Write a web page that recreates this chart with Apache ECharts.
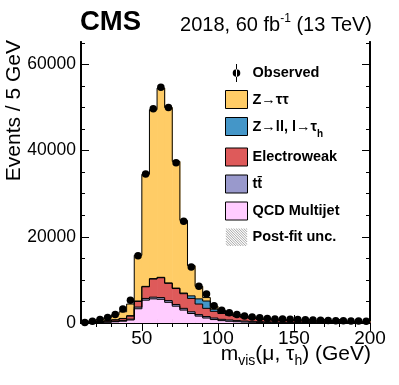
<!DOCTYPE html>
<html>
<head>
<meta charset="utf-8">
<script src="https://cdn.jsdelivr.net/npm/echarts@6/dist/echarts.min.js"></script>
<style>
html, body { margin: 0; padding: 0; background: #fff; }
#chart { width: 399px; height: 385px; }
</style>
</head>
<body>
<div id="chart"></div>
<script>
// bin low edges, 5 GeV bins from 10 to 200
var binLow = [10,15,20,25,30,35,40,45,50,55,60,65,70,75,80,85,90,95,100,105,
              110,115,120,125,130,135,140,145,150,155,160,165,170,175,180,185,190,195];

var observed = [100,400,800,1250,1950,3250,5300,15600,34600,49700,54700,50000,37200,23600,13000,8500,6700,4000,2950,2350,
                2000,1600,1400,1200,1050,950,900,850,800,750,700,650,600,550,500,480,450,420];

// stacked components, bottom to top
var qcd   = [40,80,120,180,280,420,700,3300,5300,5600,5500,4800,3900,3000,2200,1600,1150,800,550,400,
             300,220,170,130,100,80,70,60,50,45,40,35,30,25,22,20,18,16];
var ttbar = [20,40,60,80,100,140,200,400,400,400,400,400,400,400,400,350,350,350,300,300,
             250,230,210,190,180,160,140,130,120,105,95,85,80,75,68,60,54,49];
var ewk   = [40,80,150,220,320,440,700,1300,2700,4200,4600,4000,3700,3400,3100,2450,1900,1550,1350,1100,
             950,800,670,580,500,450,410,370,340,320,295,280,260,240,220,210,198,185];
var zll   = [10,20,20,30,40,60,100,100,100,100,100,100,100,150,600,1200,1700,500,300,150,
             100,70,50,40,30,20,20,20,10,10,10,10,5,5,5,5,5,5];
var ztt   = [140,280,500,740,1160,1540,2700,10600,26000,39200,43900,40700,29400,16850,7000,2900,800,700,450,450,
             400,330,300,260,240,240,240,240,240,230,220,210,205,195,185,175,165,155];

var xMajor = [50,100,150,200];
var xMinor = [20,30,40,60,70,80,90,110,120,130,140,160,170,180,190];
var yMajor = [0,20000,40000,60000];
var yMinor = [5000,10000,15000,25000,30000,35000,45000,50000,55000,65000];

var FONT = '"Liberation Sans", Arial, Helvetica, sans-serif';
var BIN = 5;

// running sum of the stack, used as the base of each component
var base = binLow.map(function () { return 0; });

function band(name, vals, color) {
    var data = vals.map(function (v, i) {
        var lo = base[i];
        base[i] += v;
        return [binLow[i], binLow[i] + BIN, lo, base[i]];
    });
    return {
        name: name, type: 'custom', silent: true,
        itemStyle: { color: color },
        encode: { x: [0, 1], y: [2, 3] },
        data: data,
        renderItem: function (params, api) {
            var i = params.dataIndex;
            var p0 = api.coord([api.value(0), api.value(3)]);
            var p1 = api.coord([api.value(1), api.value(2)]);
            var children = [{
                type: 'rect', z2: 0,
                shape: { x: p0[0], y: p0[1], width: p1[0] - p0[0] + 0.6, height: p1[1] - p0[1] },
                style: { fill: color }
            }];
            var pts = [[p0[0], p0[1]], [p1[0], p0[1]]];
            if (i + 1 < data.length) {
                var nxt = api.coord([data[i + 1][0], data[i + 1][3]]);
                pts.push([p1[0], nxt[1]]);
            }
            children.push({
                type: 'polyline', z2: 10,
                shape: { points: pts },
                style: { stroke: '#000', lineWidth: 1, fill: null }
            });
            return { type: 'group', children: children };
        }
    };
}

function xAx(pos, ticks, len, labels) {
    return {
        type: 'value', position: pos, min: 10, max: 200,
        splitLine: { show: false },
        axisLine: { show: true, lineStyle: { color: '#000', width: 1.8 } },
        axisTick: { show: true, inside: true, length: len, customValues: ticks, lineStyle: { color: '#000', width: 1 } },
        axisLabel: labels ? { customValues: xMajor, color: '#000', fontSize: 19, fontFamily: FONT, margin: 6 } : { show: false }
    };
}
function yAx(pos, ticks, len, labels) {
    return {
        type: 'value', position: pos, min: 0, max: 65200,
        splitLine: { show: false },
        axisLine: { show: true, lineStyle: { color: '#000', width: 1.8 } },
        axisTick: { show: true, inside: true, length: len, customValues: ticks, lineStyle: { color: '#000', width: 1 } },
        axisLabel: labels ? { customValues: yMajor, color: '#000', fontSize: 17.5, fontFamily: FONT, margin: 5,
                              formatter: function (v) { return String(v); } } : { show: false }
    };
}

// hatched legend icon for the uncertainty band
var hatch = '';
for (var c = -18; c < 22; c += 2.6) {
    var ys = Math.max(0, -c), ye = Math.min(18, 22 - c);
    if (ye - ys < 0.5) continue;
    hatch += 'M' + (ys + c) + ',' + ys + 'L' + (ys + c + 0.7) + ',' + ys + 'L' + (ye + c + 0.7) + ',' + ye + 'L' + (ye + c) + ',' + ye + 'Z';
}
hatch = 'path://M0,0L0.1,0L0.1,0.1Z' + hatch + 'M22,18L22.1,18L22.1,18.1Z';
var obsIcon = 'path://M10.5,0L11.5,0L11.5,18L10.5,18Z M7.2,9A3.8,3.8 0 1,0 14.8,9A3.8,3.8 0 1,0 7.2,9Z';

var legendLabels = {
    'Observed': '{b|Observed}',
    'Z\u2192\u03c4\u03c4': '{b|Z\u2192\u03c4\u03c4}',
    'Z\u2192ll, l\u2192\u03c4h': '{b|Z\u2192ll, l\u2192\u03c4}{s|h}',
    'Electroweak': '{b|Electroweak}',
    't\u0074\u0304': '{b|t\u0074\u0304}',
    'QCD Multijet': '{b|QCD Multijet}',
    'Post-fit unc.': '{b|Post-fit unc.}'
};

var myChart = echarts.init(document.getElementById('chart'));

var series = [
    band('QCD Multijet', qcd, '#ffccff'),
    band('t\u0074\u0304', ttbar, '#9999cc'),
    band('Electroweak', ewk, '#de5a5a'),
    band('Z\u2192ll, l\u2192\u03c4h', zll, '#4496c8'),
    band('Z\u2192\u03c4\u03c4', ztt, '#ffcc66'),
    { name: 'Post-fit unc.', type: 'line', data: [] },
    {
        name: 'Observed', type: 'scatter', symbol: 'circle', symbolSize: 7.5,
        data: observed.map(function (v, i) { return [binLow[i] + BIN / 2, v]; }),
        itemStyle: { color: '#000', opacity: 1 }, z: 5, silent: true
    }
];

var option = {
    animation: false,
    backgroundColor: '#fff',
    grid: { left: 81, right: 29, top: 42, bottom: 62 },
    xAxis: [ xAx('bottom', xMajor, 8, true), xAx('bottom', xMinor, 4, false),
             xAx('top', xMajor, 8, false), xAx('top', xMinor, 4, false) ],
    yAxis: [ yAx('left', yMajor, 8, true), yAx('left', yMinor, 4, false),
             yAx('right', yMajor, 8, false), yAx('right', yMinor, 4, false) ],
    legend: {
        orient: 'vertical', left: 225, top: 64, padding: 0,
        itemWidth: 22, itemHeight: 18, itemGap: 8, symbolKeepAspect: true,
        selectedMode: false,
        formatter: function (n) { return legendLabels[n]; },
        textStyle: {
            color: '#000',
            rich: {
                b: { fontFamily: FONT, fontWeight: 'bold', fontSize: 14.5, color: '#000', lineHeight: 18, verticalAlign: 'middle' },
                s: { fontFamily: FONT, fontWeight: 'bold', fontSize: 10, color: '#000', lineHeight: 18, verticalAlign: 'bottom', padding: [0, 0, -4, 0] }
            }
        },
        data: [
            { name: 'Observed', icon: obsIcon, itemStyle: { color: '#000', borderWidth: 0 } },
            { name: 'Z\u2192\u03c4\u03c4', icon: 'rect', itemStyle: { color: '#ffcc66', borderColor: '#000', borderWidth: 1 } },
            { name: 'Z\u2192ll, l\u2192\u03c4h', icon: 'rect', itemStyle: { color: '#4496c8', borderColor: '#000', borderWidth: 1 } },
            { name: 'Electroweak', icon: 'rect', itemStyle: { color: '#de5a5a', borderColor: '#000', borderWidth: 1 } },
            { name: 't\u0074\u0304', icon: 'rect', itemStyle: { color: '#9999cc', borderColor: '#000', borderWidth: 1 } },
            { name: 'QCD Multijet', icon: 'rect', itemStyle: { color: '#ffccff', borderColor: '#000', borderWidth: 1 } },
            { name: 'Post-fit unc.', icon: hatch, itemStyle: { color: '#777', borderWidth: 0 } }
        ]
    },
    graphic: [
        { type: 'text', x: 80, y: 22, style: { text: 'CMS', font: 'bold 27.5px ' + FONT, fill: '#000', verticalAlign: 'middle' } },
        { type: 'text', x: 372, y: 25, style: {
            text: '{n|2018, 60 fb}{u|-1}{n| (13 TeV)}', align: 'right', verticalAlign: 'middle',
            rich: {
                n: { fontFamily: FONT, fontSize: 20, fill: '#000', lineHeight: 24, verticalAlign: 'middle' },
                u: { fontFamily: FONT, fontSize: 12, fill: '#000', lineHeight: 24, verticalAlign: 'top' }
            } } },
        { type: 'text', x: 14, y: 40, rotation: Math.PI / 2, style: {
            text: 'Events / 5 GeV', font: '21px ' + FONT, fill: '#000', align: 'right', verticalAlign: 'middle' } },
        { type: 'text', x: 371, y: 354, style: {
            text: '{n|m}{s|vis}{n|(\u03bc, \u03c4}{s|h}{n|) (GeV)}', align: 'right', verticalAlign: 'middle',
            rich: {
                n: { fontFamily: FONT, fontSize: 21, fill: '#000', lineHeight: 28, verticalAlign: 'middle' },
                s: { fontFamily: FONT, fontSize: 14, fill: '#000', lineHeight: 28, verticalAlign: 'bottom' }
            } } }
    ],
    series: series
};

myChart.setOption(option);
</script>
</body>
</html>
